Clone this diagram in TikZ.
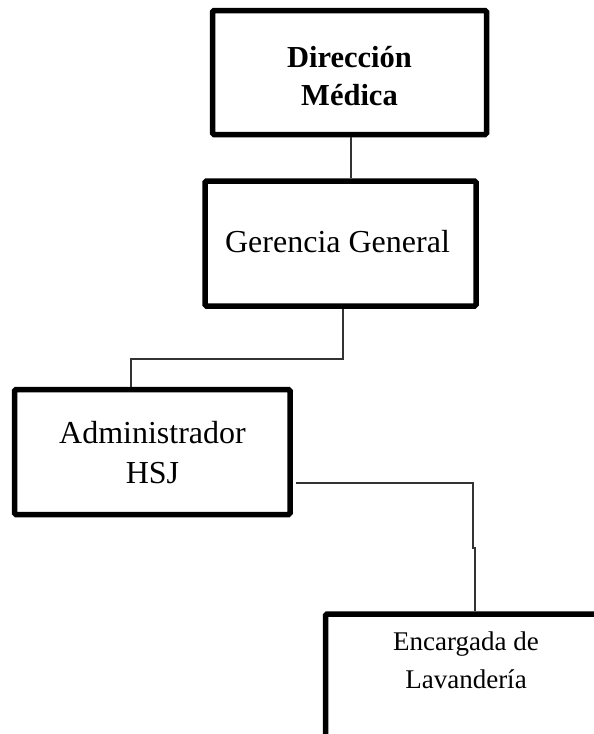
\documentclass[tikz,border=0pt]{standalone}
\usepackage{fontspec}
\setmainfont{Liberation Serif}
\begin{document}
\begin{tikzpicture}[x=1pt,y=-1pt,
  unitbox/.style={draw=black, line width=5.5pt, rectangle, rounded corners=1.5pt, inner sep=0pt},
  label/.style={inner sep=0pt, align=center, anchor=base, text=black},
  link/.style={draw=black!80, line width=1.4pt}]
\useasboundingbox (0,0) rectangle (594,734);
\clip (0,0) rectangle (594,734);

% organisation boxes
\node[unitbox, minimum width=274pt, minimum height=124pt] (b1) at (349.5,72.5) {};
\node[unitbox, minimum width=271pt, minimum height=125pt] (b2) at (340.5,243.5) {};
\node[unitbox, minimum width=275.5pt, minimum height=125pt] (b3) at (152.25,452) {};
\node[unitbox, minimum width=300pt, minimum height=140pt] (b4) at (475.5,684) {};

% box titles (anchored at the baseline of their last line)
\node[label, font=\fontsize{30.5}{38}\selectfont\bfseries] (t1) at (349.5,105) {Dirección\\Médica};
\node[label, font=\fontsize{32}{40}\selectfont] (t2) at (337.5,252) {Gerencia General};
\node[label, font=\fontsize{32}{40}\selectfont] (t3) at (152.5,483) {Administrador\\HSJ};
\node[label, font=\fontsize{27}{38}\selectfont] (t4) at (466,688) {Encargada de\\Lavandería};

% connector bends
\coordinate (k1) at (351,0);
\coordinate (k2a) at (343,359);
\coordinate (k2b) at (131,359);
\coordinate (k3s) at (296,483);
\coordinate (k3a) at (473,483);
\coordinate (k3b) at (473,548);
\coordinate (k3c) at (475,548);

% connectors
\draw[link] (b1.south -| k1) -- (b2.north -| k1);
\draw[link] (b2.south -| k2a) -- (k2a) -- (k2b) -- (b3.north -| k2b);
\draw[link] (k3s) -- (k3a) -- (k3b) -- (k3c) -- (b4.north -| k3c);
\end{tikzpicture}
\end{document}
